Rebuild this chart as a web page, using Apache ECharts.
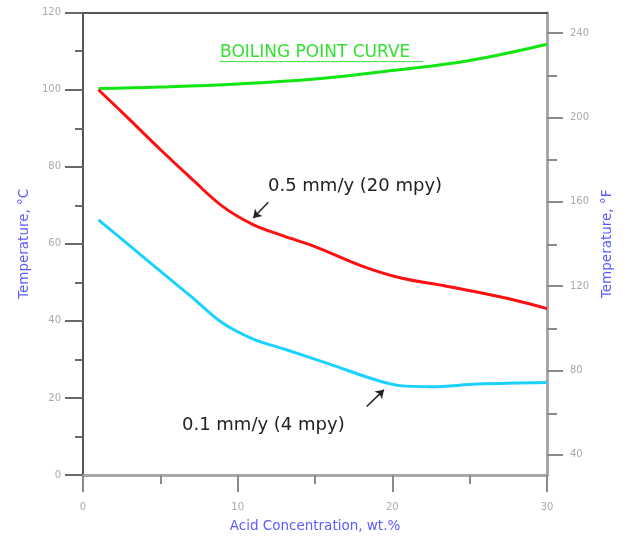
<!DOCTYPE html>
<html>
<head>
<meta charset="utf-8">
<script src="https://cdn.jsdelivr.net/npm/echarts@6/dist/echarts.min.js"></script>
<style>
html,body{margin:0;padding:0;background:#fff;}
#chart{width:626px;height:538px;}
</style>
</head>
<body>
<div id="chart"></div>
<script>
// ---- data (x = acid concentration wt.%, y = temperature °C) ----
const boilingX = [1, 5, 10, 15, 20, 25, 30];
const boilingY = [100.3, 100.7, 101.5, 102.8, 105, 107.6, 111.8];

const rate05X = [1, 3, 5, 7, 9, 11, 13, 15, 18, 20.5, 23.5, 25.7, 28, 30];
const rate05Y = [100, 92.3, 84.5, 77, 69.8, 65, 62, 59.3, 54.3, 51.2, 49, 47.3, 45.3, 43.2];

const rate01X = [1, 3, 5, 7, 9, 11, 13, 16, 19, 20.5, 22.5, 25.5, 30];
const rate01Y = [66.2, 59.6, 52.9, 46.3, 39.5, 35.3, 32.7, 28.7, 24.6, 23.2, 22.9, 23.6, 24.0];

const fTickLabels = [40, 80, 120, 160, 200, 240];
const fMinorTicks = [60, 100, 140, 180, 220];
const cMin = 0, cMax = 120;
// °F range equivalent to the °C axis as drawn in the reference
const fMin = 30.4, fMax = 249.6;

const seriesNames = ['BOILING POINT CURVE', '0.5 mm/y (20 mpy)', '0.1 mm/y (4 mpy)'];

// annotation anchors in data coordinates
const arrowRed = [[11.98, 70.8], [11.01, 66.7]];
const arrowCyan = [[18.34, 17.8], [19.46, 22.1]];
const labelRedAt = [11.96, 74.85];
const labelCyanAt = [6.4, 12.95];
const labelBoilAt = [8.86, 109.7];
const underlineAt = [[8.86, 107.3], [21.98, 107.3]];

const zip = (xs, ys) => xs.map((x, i) => [x, ys[i]]);

const FONT = 'DejaVu Sans';
const chart = echarts.init(document.getElementById('chart'), null, {renderer: 'canvas'});

const tickGray = '#8a8a8a';
const labelGray = '#aaaaaa';
const titleBlue = '#5a5aff';
const gridBox = {left: 83, right: 79, top: 12.7, bottom: 62, containLabel: false};

const option = {
  animation: false,
  textStyle: {fontFamily: FONT},
  grid: [Object.assign({}, gridBox), Object.assign({}, gridBox)],
  xAxis: [{
    gridIndex: 0, type: 'value', min: 0, max: 30, interval: 10, position: 'bottom',
    axisLine: {show: true, onZero: false, lineStyle: {color: '#a8a8a8', width: 3}},
    axisTick: {show: true, length: 17, lineStyle: {color: tickGray, width: 2}},
    minorTick: {show: true, splitNumber: 2, length: 9, lineStyle: {color: tickGray, width: 2}},
    axisLabel: {margin: 27, color: labelGray, fontSize: 10, fontFamily: FONT},
    splitLine: {show: false}, minorSplitLine: {show: false},
    name: 'Acid Concentration, wt.%', nameLocation: 'middle', nameGap: 44,
    nameTextStyle: {color: titleBlue, fontSize: 13.5, fontFamily: FONT}
  }, {
    gridIndex: 0, type: 'value', min: 0, max: 30, position: 'top',
    axisLine: {show: true, onZero: false, lineStyle: {color: '#555', width: 2}},
    axisTick: {show: false}, axisLabel: {show: false}, splitLine: {show: false}
  }, {
    gridIndex: 1, type: 'value', min: 0, max: 30, show: false
  }],
  yAxis: [{
    gridIndex: 0, type: 'value', min: cMin, max: cMax, interval: 20, position: 'left',
    axisLine: {show: true, onZero: false, lineStyle: {color: '#555', width: 2}},
    axisTick: {show: true, length: 18, lineStyle: {color: '#6a6a6a', width: 2}},
    minorTick: {show: true, splitNumber: 2, length: 8, lineStyle: {color: '#6a6a6a', width: 2}},
    axisLabel: {margin: 22, color: labelGray, fontSize: 10, fontFamily: FONT},
    splitLine: {show: false}, minorSplitLine: {show: false},
    name: 'Temperature, °C', nameLocation: 'middle', nameGap: 52, nameRotate: 90,
    nameTextStyle: {color: titleBlue, fontSize: 13.5, fontFamily: FONT}
  }, {
    gridIndex: 0, type: 'value', min: fMin, max: fMax, position: 'right',
    axisLine: {show: true, onZero: false, lineStyle: {color: '#a8a8a8', width: 3}},
    axisTick: {show: true, length: 16, customValues: fTickLabels, lineStyle: {color: tickGray, width: 2}},
    axisLabel: {margin: 23, customValues: fTickLabels, color: labelGray, fontSize: 10, fontFamily: FONT},
    splitLine: {show: false},
    name: 'Temperature, °F', nameLocation: 'middle', nameGap: 53, nameRotate: 90,
    nameTextStyle: {color: titleBlue, fontSize: 13.5, fontFamily: FONT}
  }, {
    gridIndex: 1, type: 'value', min: fMin, max: fMax, position: 'right',
    axisLine: {show: false, onZero: false},
    axisTick: {show: true, length: 10, customValues: fMinorTicks, lineStyle: {color: tickGray, width: 2}},
    axisLabel: {show: false}, splitLine: {show: false}
  }],
  series: [{
    name: seriesNames[0], type: 'line', data: zip(boilingX, boilingY),
    smooth: 0.4, symbol: 'none', lineStyle: {color: '#11e611', width: 3}
  }, {
    name: seriesNames[1], type: 'line', data: zip(rate05X, rate05Y),
    smooth: 0.35, symbol: 'none', lineStyle: {color: '#ff1010', width: 3},
    markLine: {
      silent: true, symbol: ['none', 'arrow'], symbolSize: 8, label: {show: false},
      lineStyle: {color: '#222', width: 1.5, type: 'solid'},
      data: [[{coord: arrowRed[0]}, {coord: arrowRed[1]}]]
    }
  }, {
    name: seriesNames[2], type: 'line', data: zip(rate01X, rate01Y),
    smooth: 0.35, symbol: 'none', lineStyle: {color: '#1ad1ff', width: 3},
    markLine: {
      silent: true, symbol: ['none', 'arrow'], symbolSize: 8, label: {show: false},
      lineStyle: {color: '#222', width: 1.5, type: 'solid'},
      data: [[{coord: arrowCyan[0]}, {coord: arrowCyan[1]}]]
    }
  }]
};
chart.setOption(option);

const px = (p) => chart.convertToPixel({xAxisIndex: 0, yAxisIndex: 0}, p);
const pRed = px(labelRedAt), pCyan = px(labelCyanAt), pBoil = px(labelBoilAt);
const u0 = px(underlineAt[0]), u1 = px(underlineAt[1]);
chart.setOption({
  graphic: [
    {type: 'text', x: pRed[0], y: pRed[1], style: {text: seriesNames[1], fill: '#222', font: '18px "DejaVu Sans"', textVerticalAlign: 'middle', textAlign: 'left'}},
    {type: 'text', x: pCyan[0], y: pCyan[1], style: {text: seriesNames[2], fill: '#222', font: '18px "DejaVu Sans"', textVerticalAlign: 'middle', textAlign: 'left'}},
    {type: 'text', x: pBoil[0], y: pBoil[1], style: {text: seriesNames[0], fill: '#33e033', font: '17px "DejaVu Sans"', textVerticalAlign: 'middle', textAlign: 'left'}},
    {type: 'line', shape: {x1: u0[0], y1: u0[1], x2: u1[0], y2: u1[1]}, style: {stroke: '#33e033', lineWidth: 1}}
  ]
});
</script>
</body>
</html>
